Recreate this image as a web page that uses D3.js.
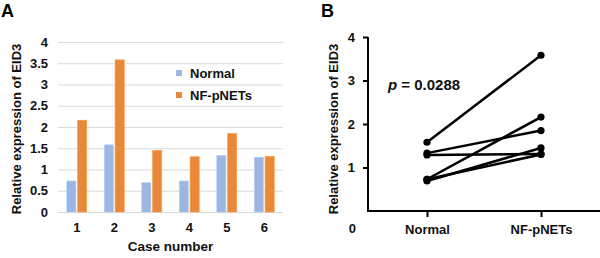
<!DOCTYPE html>
<html>
<head>
<meta charset="utf-8">
<script src="https://cdn.jsdelivr.net/npm/d3@7"></script>
<style>
  body { margin: 0; background: #fff; }
  svg { font-family: "Liberation Sans", Arial, sans-serif; font-weight: bold; }
  .tick text { font-weight: bold; }
</style>
</head>
<body>
<svg id="grafico"></svg>
<script>
// dados
const casos = ['1', '2', '3', '4', '5', '6'];
const normal = [0.73, 1.58, 0.69, 0.73, 1.33, 1.29];
const tumor = [2.16, 3.58, 1.45, 1.30, 1.85, 1.31];
const series = ['Normal', 'NF-pNETs'];
const ticksA = [0, 0.5, 1, 1.5, 2, 2.5, 3, 3.5, 4];
const ticksB = [1, 2, 3, 4];
const cores = ['#9BB6E1', '#E8883B'];

const svg = d3.select('#grafico').attr('width', 600).attr('height', 258);

// ---------- painel A: colunas ----------
const a = { esquerda: 58, direita: 283, superior: 42, inferior: 212 };
const xA = d3.scaleBand().domain(casos).range([a.esquerda, a.direita]);
const xSub = d3.scaleBand().domain(series).range([-10, 10]).paddingInner(0.15);
const yA = d3.scaleLinear().domain([0, 4]).range([a.inferior, a.superior]);

const gA = svg.append('g');

// grade
gA.append('g')
    .attr('transform', `translate(${a.esquerda},0)`)
    .call(d3.axisRight(yA).tickValues(ticksA).tickSize(a.direita - a.esquerda).tickFormat(''))
    .call(g => g.select('.domain').remove())
    .call(g => g.selectAll('line').attr('stroke', '#d9d9d9').attr('stroke-width', 1));

// eixo Y
gA.append('g')
    .attr('transform', `translate(${a.esquerda},0)`)
    .call(d3.axisLeft(yA).tickValues(ticksA).tickSize(0).tickPadding(10).tickFormat(d3.format('')))
    .call(g => g.select('.domain').remove())
    .call(g => g.selectAll('text').attr('font-size', 13).attr('fill', '#111'));

// eixo X
gA.append('g')
    .attr('transform', `translate(0,${a.inferior})`)
    .call(d3.axisBottom(xA).tickSize(0).tickPadding(11))
    .call(g => g.select('.domain').remove())
    .call(g => g.selectAll('text').attr('font-size', 13).attr('fill', '#111'));

// barras
const grupos = gA.selectAll('.grupo')
  .data(casos.map((c, i) => ({ caso: c, valores: [normal[i], tumor[i]] })))
  .enter().append('g')
    .attr('transform', d => `translate(${xA(d.caso) + xA.bandwidth() / 2},0)`);

grupos.selectAll('rect')
  .data(d => d.valores.map((v, j) => ({ serie: series[j], valor: v, cor: cores[j] })))
  .enter().append('rect')
    .attr('x', d => xSub(d.serie))
    .attr('width', xSub.bandwidth())
    .attr('y', d => yA(d.valor))
    .attr('height', d => yA(0) - yA(d.valor))
    .attr('fill', d => d.cor)
    .attr('stroke', d => d3.color(d.cor).brighter(0.4))
    .attr('stroke-width', 0.6);

// legenda
const legenda = gA.selectAll('.legenda').data(series).enter().append('g')
    .attr('transform', (d, i) => `translate(176,${70 + i * 22})`);
legenda.append('rect').attr('width', 6).attr('height', 6).attr('fill', (d, i) => cores[i]);
legenda.append('text').attr('x', 14).attr('y', 3).attr('dy', '0.35em')
    .attr('font-size', 13).attr('fill', '#111').text(d => d);

// títulos
gA.append('text')
    .attr('transform', `translate(16,${(a.superior + a.inferior) / 2 + 2}) rotate(-90)`)
    .attr('text-anchor', 'middle').attr('dy', '0.35em')
    .attr('font-size', 13).attr('fill', '#111')
    .text('Relative expression of EID3');
gA.append('text')
    .attr('x', (a.esquerda + a.direita) / 2).attr('y', 246).attr('dy', '0.35em')
    .attr('text-anchor', 'middle').attr('font-size', 13.5).attr('fill', '#111')
    .text('Case number');
svg.append('text').attr('x', 1).attr('y', 17).attr('font-size', 18).attr('fill', '#000').text('A');

// ---------- painel B: pareado ----------
const b = { esquerda: 368, direita: 600, superior: 37, inferior: 211 };
const xB = d3.scalePoint().domain(series).range([427, 541]);
const yB = d3.scaleLinear().domain([0, 4]).range([b.inferior, b.superior]);

const gB = svg.append('g');

gB.append('g')
    .attr('transform', `translate(${b.esquerda},0)`)
    .call(d3.axisLeft(yB).tickValues(ticksB).tickSize(5).tickSizeOuter(0).tickPadding(8).tickFormat(d3.format('d')))
    .call(g => g.select('.domain').attr('stroke-width', 2).attr('d', `M0,${b.superior}V${b.inferior}`))
    .call(g => g.selectAll('line').attr('stroke-width', 2))
    .call(g => g.selectAll('text').attr('font-size', 13).attr('fill', '#111'));

// o zero fica deslocado abaixo do eixo, como no original
gB.append('text')
    .attr('x', b.esquerda - 12).attr('y', yB(0) + 17).attr('dy', '0.35em')
    .attr('text-anchor', 'end').attr('font-size', 13).attr('fill', '#111')
    .text('0');

gB.append('g')
    .attr('transform', `translate(0,${b.inferior})`)
    .call(d3.axisBottom(xB).tickSize(6).tickSizeOuter(0).tickPadding(8))
    .call(g => g.select('.domain').attr('stroke-width', 2).attr('d', `M${b.esquerda - 1},0H${b.direita}`))
    .call(g => g.selectAll('line').attr('stroke-width', 2))
    .call(g => g.selectAll('text').attr('font-size', 13).attr('fill', '#111'));

const pares = casos.map((c, i) => [normal[i], tumor[i]]);
const linha = d3.line().x((d, j) => xB(series[j])).y(d => yB(d));

gB.selectAll('.par').data(pares).enter().append('path')
    .attr('d', linha)
    .attr('fill', 'none').attr('stroke', '#000').attr('stroke-width', 2.5);

gB.selectAll('.ponto')
  .data(pares.flatMap(p => p.map((v, j) => ({ serie: series[j], valor: v }))))
  .enter().append('circle')
    .attr('cx', d => xB(d.serie)).attr('cy', d => yB(d.valor))
    .attr('r', 3.6).attr('fill', '#000');

gB.append('text')
    .attr('transform', `translate(333,${(b.superior + b.inferior) / 2 + 5}) rotate(-90)`)
    .attr('text-anchor', 'middle').attr('dy', '0.35em')
    .attr('font-size', 13).attr('fill', '#111')
    .text('Relative expression of EID3');

const pTexto = gB.append('text').attr('x', 388).attr('y', 90).attr('font-size', 15).attr('fill', '#111');
pTexto.append('tspan').attr('font-style', 'italic').text('p');
pTexto.append('tspan').text(' = 0.0288');

svg.append('text').attr('x', 321).attr('y', 17).attr('font-size', 18).attr('fill', '#000').text('B');
</script>
</body>
</html>
